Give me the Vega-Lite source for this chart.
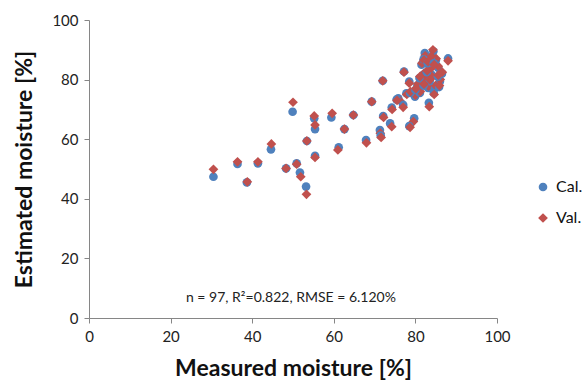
{
  "$schema": "https://vega.github.io/schema/vega-lite/v6.json",
  "width": 408,
  "height": 298,
  "autosize": {"type": "none"},
  "padding": {"left": 89, "top": 20, "right": 87, "bottom": 71},
  "background": "white",
  "config": {
    "view": {"stroke": null},
    "font": "Lato",
    "axis": {"labelFont": "Lato", "titleFont": "Lato"}
  },
  "datasets": {
    "pts": [
      {"m":30.5,"e":47.4,"s":"Cal."},{"m":30.5,"e":49.9,"s":"Val."},
      {"m":36.4,"e":51.7,"s":"Cal."},{"m":36.4,"e":52.4,"s":"Val."},
      {"m":38.7,"e":45.5,"s":"Cal."},{"m":38.8,"e":45.7,"s":"Val."},
      {"m":41.4,"e":51.9,"s":"Cal."},{"m":41.4,"e":52.4,"s":"Val."},
      {"m":44.6,"e":56.6,"s":"Cal."},{"m":44.7,"e":58.4,"s":"Val."},
      {"m":48.3,"e":50.2,"s":"Cal."},{"m":48.3,"e":50.2,"s":"Val."},
      {"m":49.9,"e":69.2,"s":"Cal."},{"m":50.0,"e":72.4,"s":"Val."},
      {"m":50.9,"e":51.9,"s":"Cal."},{"m":50.9,"e":51.6,"s":"Val."},
      {"m":51.7,"e":48.8,"s":"Cal."},{"m":51.9,"e":47.4,"s":"Val."},
      {"m":53.2,"e":44.1,"s":"Cal."},{"m":53.3,"e":41.5,"s":"Val."},
      {"m":53.4,"e":59.4,"s":"Cal."},{"m":53.4,"e":59.4,"s":"Val."},
      {"m":55.2,"e":67.0,"s":"Cal."},{"m":55.2,"e":67.8,"s":"Val."},
      {"m":55.4,"e":63.4,"s":"Cal."},{"m":55.4,"e":64.8,"s":"Val."},
      {"m":55.4,"e":54.4,"s":"Cal."},{"m":55.4,"e":53.9,"s":"Val."},
      {"m":59.4,"e":67.3,"s":"Cal."},{"m":59.6,"e":68.7,"s":"Val."},
      {"m":61.2,"e":57.3,"s":"Cal."},{"m":61.0,"e":56.4,"s":"Val."},
      {"m":62.6,"e":63.4,"s":"Cal."},{"m":62.6,"e":63.4,"s":"Val."},
      {"m":64.8,"e":68.1,"s":"Cal."},{"m":64.8,"e":68.1,"s":"Val."},
      {"m":67.9,"e":59.7,"s":"Cal."},{"m":68.0,"e":58.8,"s":"Val."},
      {"m":69.3,"e":72.6,"s":"Cal."},{"m":69.3,"e":72.6,"s":"Val."},
      {"m":72.0,"e":79.6,"s":"Cal."},{"m":72.0,"e":79.6,"s":"Val."},
      {"m":71.3,"e":63.1,"s":"Cal."},{"m":71.4,"e":62.0,"s":"Val."},
      {"m":71.5,"e":61.2,"s":"Cal."},{"m":71.6,"e":60.6,"s":"Val."},
      {"m":72.1,"e":67.8,"s":"Cal."},{"m":72.2,"e":67.3,"s":"Val."},
      {"m":74.2,"e":70.6,"s":"Cal."},{"m":74.3,"e":70.0,"s":"Val."},
      {"m":73.8,"e":65.3,"s":"Cal."},{"m":74.2,"e":64.2,"s":"Val."},
      {"m":75.8,"e":73.7,"s":"Cal."},{"m":76.2,"e":72.9,"s":"Val."},
      {"m":77.0,"e":71.5,"s":"Cal."},{"m":77.0,"e":70.7,"s":"Val."},
      {"m":77.2,"e":82.7,"s":"Cal."},{"m":77.2,"e":82.5,"s":"Val."},
      {"m":78.5,"e":79.3,"s":"Cal."},{"m":78.5,"e":78.8,"s":"Val."},
      {"m":79.7,"e":67.0,"s":"Cal."},{"m":79.5,"e":65.9,"s":"Val."},
      {"m":78.5,"e":64.4,"s":"Cal."},{"m":78.7,"e":64.0,"s":"Val."},
      {"m":83.3,"e":72.2,"s":"Cal."},{"m":83.4,"e":70.9,"s":"Val."},
      {"m":88.0,"e":87.1,"s":"Cal."},{"m":88.0,"e":86.3,"s":"Val."},
      {"m":77.8,"e":75.4,"s":"Cal."},{"m":77.9,"e":75.0,"s":"Val."},
      {"m":79.9,"e":74.3,"s":"Cal."},{"m":80.0,"e":74.8,"s":"Val."},
      {"m":82.3,"e":88.9,"s":"Cal."},{"m":82.4,"e":88.0,"s":"Val."},
      {"m":84.4,"e":89.5,"s":"Cal."},{"m":84.3,"e":90.0,"s":"Val."},
      {"m":81.5,"e":85.0,"s":"Cal."},{"m":81.6,"e":85.5,"s":"Val."},
      {"m":81.9,"e":81.6,"s":"Cal."},{"m":82.0,"e":82.0,"s":"Val."},
      {"m":84.0,"e":81.6,"s":"Cal."},{"m":84.1,"e":81.0,"s":"Val."},
      {"m":85.6,"e":83.9,"s":"Cal."},{"m":85.6,"e":84.5,"s":"Val."},
      {"m":86.0,"e":79.4,"s":"Cal."},{"m":86.1,"e":80.0,"s":"Val."},
      {"m":83.1,"e":77.2,"s":"Cal."},{"m":83.2,"e":77.8,"s":"Val."},
      {"m":81.1,"e":75.5,"s":"Cal."},{"m":81.2,"e":76.0,"s":"Val."},
      {"m":78.7,"e":75.5,"s":"Cal."},{"m":78.8,"e":76.0,"s":"Val."},
      {"m":75.4,"e":73.3,"s":"Cal."},{"m":75.5,"e":73.0,"s":"Val."},
      {"m":84.8,"e":77.2,"s":"Cal."},{"m":84.9,"e":78.0,"s":"Val."},
      {"m":82.5,"e":79.5,"s":"Cal."},{"m":82.6,"e":80.2,"s":"Val."},
      {"m":83.5,"e":84.0,"s":"Cal."},{"m":83.6,"e":83.5,"s":"Val."},
      {"m":85.0,"e":86.5,"s":"Cal."},{"m":85.1,"e":87.0,"s":"Val."},
      {"m":83.8,"e":87.5,"s":"Cal."},{"m":83.9,"e":87.8,"s":"Val."},
      {"m":82.8,"e":82.5,"s":"Cal."},{"m":82.9,"e":83.0,"s":"Val."},
      {"m":80.5,"e":78.0,"s":"Cal."},{"m":80.6,"e":78.5,"s":"Val."},
      {"m":84.5,"e":75.5,"s":"Cal."},{"m":84.6,"e":75.0,"s":"Val."},
      {"m":86.5,"e":82.0,"s":"Cal."},{"m":86.6,"e":82.5,"s":"Val."},
      {"m":81.0,"e":80.5,"s":"Cal."},{"m":81.1,"e":81.0,"s":"Val."},
      {"m":82.0,"e":86.8,"s":"Cal."},{"m":82.1,"e":86.5,"s":"Val."},
      {"m":83.0,"e":85.5,"s":"Cal."},{"m":83.1,"e":86.0,"s":"Val."},
      {"m":84.5,"e":85.5,"s":"Cal."},{"m":84.6,"e":85.0,"s":"Val."},
      {"m":85.5,"e":81.0,"s":"Cal."},{"m":85.6,"e":81.5,"s":"Val."},
      {"m":83.5,"e":79.5,"s":"Cal."},{"m":83.6,"e":80.0,"s":"Val."},
      {"m":82.0,"e":78.0,"s":"Cal."},{"m":82.1,"e":78.5,"s":"Val."},
      {"m":80.0,"e":76.5,"s":"Cal."},{"m":80.1,"e":77.0,"s":"Val."},
      {"m":85.8,"e":77.5,"s":"Cal."},{"m":85.9,"e":78.0,"s":"Val."}
    ],
    "note": [{"m": 49.5, "e": 6.7, "t": "n = 97, R²=0.822, RMSE = 6.120%"}]
  },
  "layer": [
    {
      "data": {"name": "pts"},
      "mark": {"type": "point", "filled": true, "opacity": 1},
      "encoding": {
        "x": {
          "field": "m", "type": "quantitative",
          "scale": {"domain": [0, 100], "nice": false, "zero": false},
          "axis": {
            "title": "Measured moisture [%]", "values": [0,20,40,60,80,100],
            "grid": false, "domainColor": "#868686", "tickColor": "#868686",
            "tickSize": 5, "labelFontSize": 15, "labelColor": "#222222",
            "labelPadding": 6, "titleFontSize": 23, "titleFontWeight": "bold",
            "titleColor": "#111111", "titlePadding": 13, "labelFlush": false
          }
        },
        "y": {
          "field": "e", "type": "quantitative",
          "scale": {"domain": [0, 100], "nice": false, "zero": false},
          "axis": {
            "title": "Estimated moisture [%]", "values": [0,20,40,60,80,100],
            "grid": false, "domainColor": "#868686", "tickColor": "#868686",
            "tickSize": 5, "labelFontSize": 15, "labelColor": "#222222",
            "labelPadding": 6, "titleFontSize": 23, "titleFontWeight": "bold",
            "titleColor": "#111111", "titlePadding": 15, "labelFlush": false
          }
        },
        "color": {
          "field": "s", "type": "nominal",
          "scale": {"domain": ["Cal.", "Val."], "range": ["#4F81BD", "#C0504D"]},
          "legend": {
            "title": null, "orient": "none", "legendX": 446, "legendY": 159,
            "labelFontSize": 16, "labelColor": "#111111", "rowPadding": 15,
            "symbolSize": 60, "labelOffset": 5
          }
        },
        "shape": {
          "field": "s", "type": "nominal",
          "scale": {"domain": ["Cal.", "Val."], "range": ["circle", "diamond"]},
          "legend": null
        },
        "size": {
          "field": "s", "type": "nominal",
          "scale": {"domain": ["Cal.", "Val."], "range": [75, 95]},
          "legend": null
        }
      }
    },
    {
      "data": {"name": "note"},
      "mark": {"type": "text", "fontSize": 14, "color": "#222222", "align": "center", "baseline": "middle"},
      "encoding": {
        "x": {"field": "m", "type": "quantitative"},
        "y": {"field": "e", "type": "quantitative"},
        "text": {"field": "t"}
      }
    }
  ]
}
